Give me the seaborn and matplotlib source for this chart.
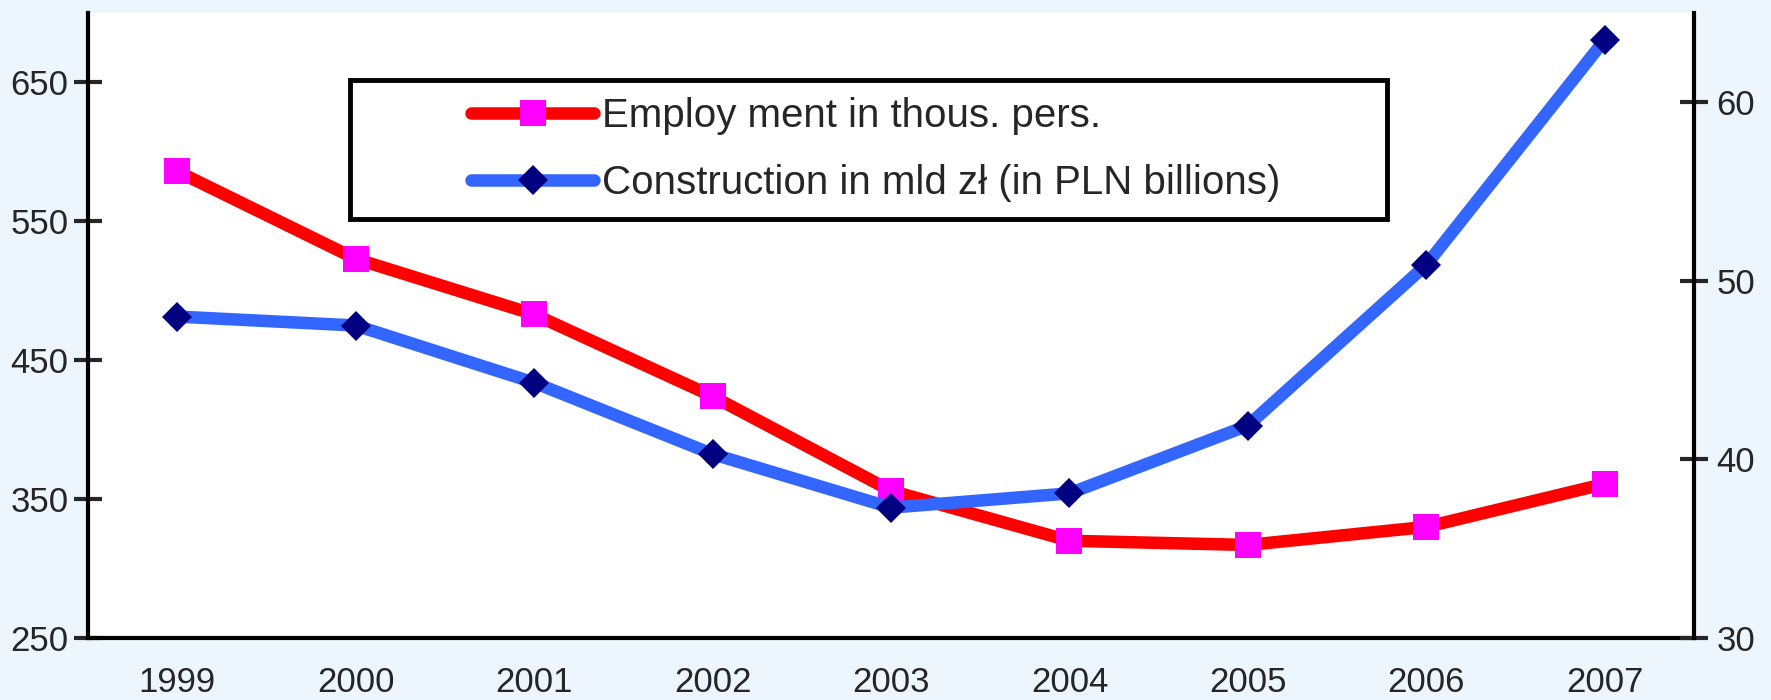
import numpy as np
import pandas as pd
import matplotlib
matplotlib.use("Agg")
import matplotlib.pyplot as plt
import seaborn as sns
from matplotlib.lines import Line2D
from matplotlib.legend_handler import HandlerLine2D

# data
years = ["1999", "2000", "2001", "2002", "2003", "2004", "2005", "2006", "2007"]
employment = [586, 523, 483, 424, 356, 320, 317, 330, 361]          # thous. persons (left axis)
construction = [48.0, 47.5, 44.3, 40.3, 37.3, 38.1, 41.9, 50.9, 63.5]  # PLN bn (right axis)
emp_label = "Employ ment in thous. pers."
con_label = "Construction in mld zł (in PLN billions)"

df = pd.DataFrame({"pos": np.arange(len(years)), "employment": employment,
                   "construction": construction})

sns.set_style("white")
plt.rcParams["font.family"] = ["Liberation Sans", "DejaVu Sans"]

fig = plt.figure(figsize=(17.71, 7), dpi=100, facecolor="#eef6fd")
ax = fig.add_axes([88 / 1771, 1 - 638 / 700, (1694 - 88) / 1771, (638 - 13) / 700])
ax.set_facecolor("white")
ax2 = ax.twinx()

sns.lineplot(data=df, x="pos", y="employment", ax=ax, color="#ff0000", lw=9,
             marker="s", markersize=19, markerfacecolor="#ff00ff",
             markeredgewidth=0, label=emp_label)
sns.lineplot(data=df, x="pos", y="construction", ax=ax2, color="#3366ff", lw=9,
             marker="D", markersize=15.5, markerfacecolor="#000080",
             markeredgewidth=0, label=con_label)

ax.set_xlim(-0.5, len(years) - 0.5)
ax.set_ylim(250, 700)
ax2.set_ylim(30, 65)
ax.set_yticks([250, 350, 450, 550, 650])
ax2.set_yticks([30, 40, 50, 60])

# category axis: tick marks between years, labels centred
ax.set_xticks(np.arange(-0.5, len(years), 1))
ax.set_xticklabels([])
ax.set_xticks(np.arange(len(years)), years, minor=True)
ax.tick_params(axis="x", which="major", direction="inout", length=20, width=3)
ax.tick_params(axis="x", which="minor", length=0, labelsize=25, pad=20)
ax.tick_params(axis="y", direction="inout", length=20, width=3, labelsize=25, pad=4)
ax2.tick_params(axis="y", direction="inout", length=20, width=3, labelsize=25, pad=6)

for a in (ax, ax2):
    a.set_xlabel("")
    a.set_ylabel("")
    for s in a.spines.values():
        s.set_linewidth(3)
        s.set_color("black")
    a.spines["top"].set_visible(False)
ax.spines["right"].set_visible(False)
ax2.spines["left"].set_visible(False)
ax2.spines["bottom"].set_visible(False)

if ax.get_legend() is not None:
    ax.get_legend().remove()
h1, l1 = ax.get_legend_handles_labels()
h2, l2 = ax2.get_legend_handles_labels()
leg = ax2.legend(h1 + h2, l1 + l2, loc="upper left",
                 bbox_to_anchor=(0.163, 0.672, 0.646, 0.221), mode="expand",
                 borderaxespad=0, fontsize=29, frameon=True, fancybox=False,
                 borderpad=0.42, labelspacing=0.72, handlelength=5.65,
                 handletextpad=0.2,
                 handler_map={Line2D: HandlerLine2D(xpad=2.6)})
leg.get_frame().set_edgecolor("black")
leg.get_frame().set_linewidth(3.5)
leg.get_frame().set_facecolor("white")
leg.get_frame().set_alpha(1)

fig.savefig("out.png", dpi=100, facecolor=fig.get_facecolor())
